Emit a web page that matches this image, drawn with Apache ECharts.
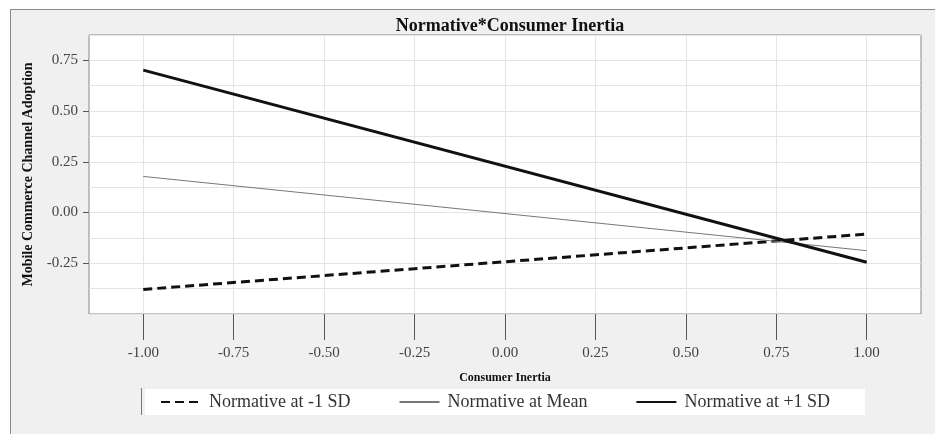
<!DOCTYPE html>
<html lang="en">
<head>
  <meta charset="UTF-8">
  <title>Normative*Consumer Inertia</title>
  <style>
    body { margin: 0; background: #fff; }
    #frame { position: absolute; left: 10px; top: 9px; width: 940px; height: 440px;
             background: #f0f0f0; border: 1px solid #8a8a8a; }
    #main { position: absolute; left: 0; top: 0; width: 935px; height: 434px; }
  </style>
</head>
<body>
  <div id="frame"></div>
  <div id="main"></div>
  <script src="https://cdn.jsdelivr.net/npm/echarts@6/dist/echarts.min.js"></script>
  <script>
    // data
    var inertia = [-1, 1];
    var lowSD = [-0.379, -0.106];
    var meanSD = [0.178, -0.188];
    var highSD = [0.702, -0.245];
    var xTicks = [-1, -0.75, -0.5, -0.25, 0, 0.25, 0.5, 0.75, 1];
    var yTicks = [-0.25, 0, 0.25, 0.5, 0.75];
    var names = ['Normative at -1 SD', 'Normative at Mean', 'Normative at +1 SD'];

    function pairs(ys) {
      return inertia.map(function (x, i) { return [x, ys[i]]; });
    }

    var serif = '"Liberation Serif", "Times New Roman", serif';
    var chart = echarts.init(document.getElementById('main'));

    var option = {
      backgroundColor: 'transparent',
      animation: false,
      title: {
        text: 'Normative*Consumer Inertia',
        left: 505, textAlign: 'center',
        top: 12,
        textStyle: { fontFamily: serif, fontSize: 18, fontWeight: 'bold', color: '#111' }
      },
      legend: {
        data: names,
        left: 145, top: 389,
        backgroundColor: '#fff',
        padding: [4, 35, 4, 15],
        itemWidth: 40, itemHeight: 14, itemGap: 48,
        // hide the marker dot, keep only the line sample
        itemStyle: { color: 'rgba(0,0,0,0)', borderWidth: 0, opacity: 0 },
        textStyle: { fontFamily: serif, fontSize: 18, color: '#333', padding: [0, 0, 0, 3] }
      },
      grid: {
        show: true, left: 89, right: 14, top: 35, bottom: 120,
        backgroundColor: '#fff', borderColor: '#888', borderWidth: 1
      },
      xAxis: {
        type: 'value', min: -1.15, max: 1.15,
        name: 'Consumer Inertia', nameLocation: 'middle', nameGap: 58,
        nameTextStyle: { fontFamily: serif, fontSize: 12, fontWeight: 'bold', color: '#111' },
        axisLine: { show: false, onZero: false },
        axisTick: { show: true, length: 26, customValues: xTicks, lineStyle: { color: '#555' } },
        axisLabel: {
          customValues: xTicks, margin: 32,
          fontFamily: serif, fontSize: 15, color: '#444',
          formatter: function (v) { return v.toFixed(2); }
        },
        splitLine: { show: true, lineStyle: { color: '#e4e4e4' } }
      },
      yAxis: [{
        type: 'value', min: -0.5, max: 0.875, interval: 0.125,
        axisLine: { show: false }, axisTick: { show: false }, axisLabel: { show: false },
        splitLine: { show: true, lineStyle: { color: '#e4e4e4' } }
      }, {
        type: 'value', min: -0.5, max: 0.875, position: 'left',
        name: 'Mobile Commerce Channel Adoption', nameLocation: 'middle', nameGap: 53,
        nameTextStyle: { fontFamily: serif, fontSize: 14, fontWeight: 'bold', color: '#111' },
        axisLine: { show: false },
        axisTick: { show: true, length: 6, customValues: yTicks, lineStyle: { color: '#555' } },
        axisLabel: {
          customValues: yTicks, margin: 11,
          fontFamily: serif, fontSize: 15, color: '#444',
          formatter: function (v) { return v.toFixed(2); }
        },
        splitLine: { show: false }
      }],
      graphic: [{
        type: 'line', shape: { x1: 141.5, y1: 388, x2: 141.5, y2: 415 },
        style: { stroke: '#777', lineWidth: 1 }
      }],
      series: [{
        name: names[0], type: 'line', data: pairs(lowSD), symbol: 'none',
        lineStyle: { color: '#111', width: 3, type: [9, 5] }, itemStyle: { color: '#111' }
      }, {
        name: names[1], type: 'line', data: pairs(meanSD), symbol: 'none',
        lineStyle: { color: '#777', width: 1 }, itemStyle: { color: '#777' }
      }, {
        name: names[2], type: 'line', data: pairs(highSD), symbol: 'none',
        lineStyle: { color: '#111', width: 3 }, itemStyle: { color: '#111' }
      }]
    };

    chart.setOption(option);
  </script>
</body>
</html>
